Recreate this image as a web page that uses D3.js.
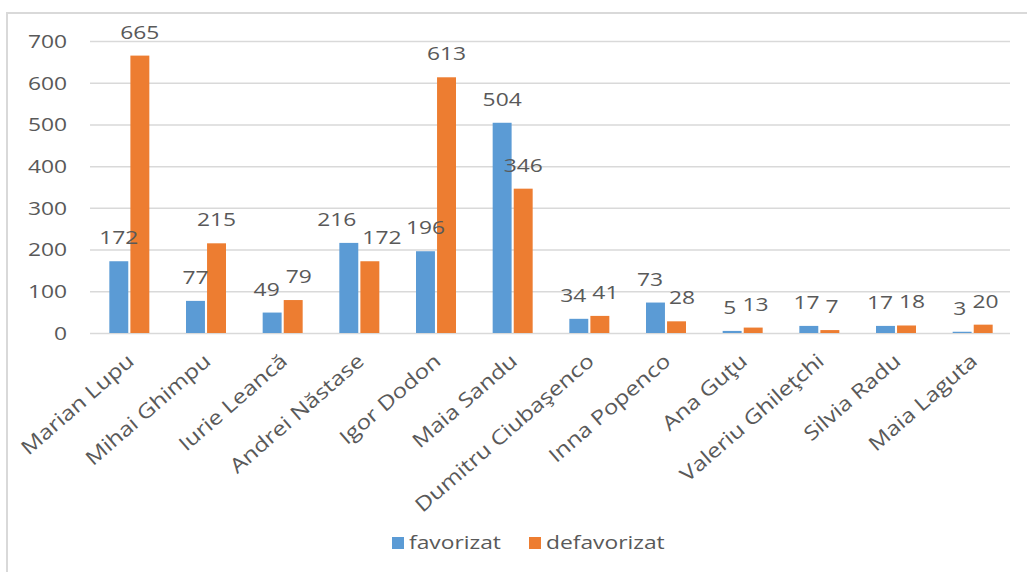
<!DOCTYPE html>
<html>
<head>
<meta charset="utf-8">
<script src="https://cdn.jsdelivr.net/npm/d3@7"></script>
<style>
  html, body { margin: 0; padding: 0; background: #fff; }
  svg { display: block; }
  text { font-family: "Open Sans", sans-serif; fill: #595959; }
</style>
</head>
<body>
<svg id="chart" width="1027" height="572"></svg>
<script>
const categories = ["Marian Lupu", "Mihai Ghimpu", "Iurie Leancă", "Andrei Năstase", "Igor Dodon", "Maia Sandu", "Dumitru Ciubaşenco", "Inna Popenco", "Ana Guţu", "Valeriu Ghileţchi", "Silvia Radu", "Maia Laguta"];
const seriesNames = ["favorizat", "defavorizat"];
const favorizat = [172, 77, 49, 216, 196, 504, 34, 73, 5, 17, 17, 3];
const defavorizat = [665, 215, 79, 172, 613, 346, 41, 28, 13, 7, 18, 20];
const yTicks = [0, 100, 200, 300, 400, 500, 600, 700];
const colors = ["#5b9bd5", "#ed7d31"];

const seriesValues = [favorizat, defavorizat];
const svg = d3.select("#chart");

const plot = { left: 90, right: 1010, top: 41, bottom: 333 };
const x0 = d3.scaleBand().domain(categories).range([plot.left, plot.right]).padding(0);
const x1 = d3.scaleBand().domain(seriesNames).range([-19, 21]).paddingInner(0.1);
const y = d3.scaleLinear().domain([0, 700]).range([plot.bottom, plot.top]);

const SX = 1.2; // horizontal text stretch
const FS = 19;

// outer border (top and left)
svg.append("line").attr("x1", 7).attr("x2", 1027).attr("y1", 13).attr("y2", 13)
  .attr("stroke", "#d9d9d9").attr("stroke-width", 2);
svg.append("line").attr("x1", 7).attr("x2", 7).attr("y1", 12).attr("y2", 572)
  .attr("stroke", "#d9d9d9").attr("stroke-width", 2);

// gridlines
const yAxis = d3.axisLeft(y).tickValues(yTicks).tickSize(-(plot.right - plot.left)).tickPadding(0).tickFormat("");
const ga = svg.append("g").attr("transform", `translate(${plot.left},0)`).call(yAxis);
ga.select(".domain").remove();
ga.selectAll(".tick line").attr("stroke", "#d9d9d9").attr("stroke-width", 1.5);

// y tick labels
svg.append("g").selectAll("text").data(yTicks).join("text")
  .attr("transform", d => `translate(67,${y(d)}) scale(${SX},1)`)
  .attr("text-anchor", "end").attr("dy", "0.36em")
  .style("font-size", FS + "px")
  .text(d => d);

// bars
const groups = svg.append("g").selectAll("g").data(categories).join("g")
  .attr("transform", d => `translate(${x0(d) + x0.bandwidth() / 2},0)`);

const rowsOf = (c, i) => seriesNames.map((s, k) => ({ s, k, v: seriesValues[k][i] }));

groups.selectAll("rect").data(rowsOf)
  .join("rect")
  .attr("x", d => x1(d.s))
  .attr("width", x1.bandwidth())
  .attr("y", d => y(d.v))
  .attr("height", d => y(0) - y(d.v))
  .attr("fill", d => colors[d.k]);

// data labels with simple collision nudging inside each group
groups.each(function (c, i) {
  const g = d3.select(this);
  const rows = rowsOf(c, i);
  const texts = rows.map(d => g.append("text")
    .attr("text-anchor", "middle")
    .style("font-size", FS + "px")
    .text(d.v));
  const cx = rows.map(d => x1(d.s) + x1.bandwidth() / 2);
  const by = rows.map(d => y(d.v) - 17);
  const w = texts.map(t => t.node().getComputedTextLength() * SX);
  if (Math.abs(by[0] - by[1]) < FS + 1) {
    const overlap = (cx[0] + w[0] / 2) - (cx[1] - w[1] / 2) + 6;
    if (overlap > 0) { cx[0] -= overlap / 2; cx[1] += overlap / 2; }
  }
  texts.forEach((t, k) => t.attr("transform", `translate(${cx[k]},${by[k]}) scale(${SX},1)`));
});

// category labels
svg.append("g").selectAll("text").data(categories).join("text")
  .attr("transform", d => `translate(${x0(d) + x0.bandwidth() / 2 + 7},363) rotate(-41) scale(${SX},1)`)
  .attr("text-anchor", "end")
  .style("font-size", "20px")
  .text(d => d);

// legend
const legend = svg.append("g");
const legendX = [392, 529];
seriesNames.forEach((s, k) => {
  legend.append("rect").attr("x", legendX[k]).attr("y", 537).attr("width", 12).attr("height", 12).attr("fill", colors[k]);
  legend.append("text")
    .attr("transform", `translate(${legendX[k] + 17},549) scale(${SX},1)`)
    .style("font-size", FS + "px")
    .text(s);
});
</script>
</body>
</html>
